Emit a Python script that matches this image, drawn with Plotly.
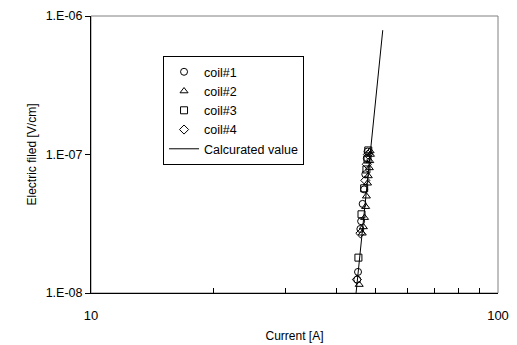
import plotly.graph_objects as go

# coil data: current [A], electric field [V/cm]
coil1_I = [47.8, 47.6, 47.2, 46.9, 46.5, 46.1, 45.9, 45.3, 45.1]
coil1_E = [1.05e-7, 9.4e-8, 7.2e-8, 5.6e-8, 4.4e-8, 3.3e-8, 2.9e-8, 1.42e-8, 1.25e-8]

coil2_I = [48.5, 48.6, 48.4, 48.3, 48.0, 47.8, 47.5, 47.3, 47.0, 46.7, 46.4, 45.6]
coil2_E = [1.06e-7, 1.0e-7, 9.0e-8, 8.0e-8, 7.0e-8, 6.2e-8, 5.0e-8, 4.2e-8, 3.5e-8, 3.0e-8, 2.7e-8, 1.15e-8]

coil3_I = [48.0, 47.8, 47.5, 46.9, 46.2, 45.4]
coil3_E = [1.07e-7, 9.2e-8, 7.8e-8, 5.7e-8, 3.7e-8, 1.8e-8]

coil4_I = [47.9, 47.6, 47.2, 45.9, 45.0]
coil4_E = [1.0e-7, 8.5e-8, 6.5e-8, 2.7e-8, 1.25e-8]

calc_I = [44.8, 52.1]
calc_E = [1.0e-8, 7.9e-7]

y_ticks = [1e-8, 1e-7, 1e-6]
y_labels = ["1.E-08", "1.E-07", "1.E-06"]
x_ticks = [10, 100]
x_labels = ["10", "100"]
x_minor = [20, 30, 40, 50, 60, 70, 80, 90]

FONT = "Liberation Sans, Arial, sans-serif"

fig = go.Figure()
for name, xs, ys, sym in [
    ("coil#1", coil1_I, coil1_E, "circle-open"),
    ("coil#2", coil2_I, coil2_E, "triangle-up-open"),
    ("coil#3", coil3_I, coil3_E, "square-open"),
    ("coil#4", coil4_I, coil4_E, "diamond-open"),
]:
    fig.add_trace(go.Scatter(x=xs, y=ys, mode="markers", name=name,
                             marker=dict(symbol=sym, size=7, color="black",
                                         line=dict(color="black", width=1))))
fig.add_trace(go.Scatter(x=calc_I, y=calc_E, mode="lines", name="Calcurated value",
                         line=dict(color="black", width=1)))

fig.update_layout(
    width=517, height=345,
    margin=dict(l=91, r=19, t=16, b=52),
    paper_bgcolor="white", plot_bgcolor="white",
    font=dict(family=FONT, size=12, color="black"),
    showlegend=True,
    legend=dict(x=0.177, y=0.855, xanchor="left", yanchor="top",
                bordercolor="black", borderwidth=1, bgcolor="white",
                font=dict(family=FONT, size=12.5), itemwidth=30),
    shapes=[dict(type="rect", xref="paper", yref="paper", x0=0, x1=1, y0=0, y1=1,
                 line=dict(color="#808080", width=1), layer="below")],
)
fig.update_xaxes(type="log", range=[1, 2], tickvals=x_ticks, ticktext=x_labels,
                 showgrid=False, showline=True, linecolor="black", linewidth=1,
                 ticks="", zeroline=False, ticklabelstandoff=10, automargin=False,
                 minor=dict(tickvals=x_minor, ticks="inside", ticklen=5,
                            tickcolor="black", showgrid=False),
                 title=dict(text="Current [A]", font=dict(size=12), standoff=10),
                 tickfont=dict(size=13))
fig.update_yaxes(type="log", range=[-8, -6], tickvals=y_ticks, ticktext=y_labels,
                 showgrid=False, showline=True, linecolor="black", linewidth=1,
                 ticks="outside", ticklen=5, tickcolor="black", zeroline=False,
                 automargin=False,
                 title=dict(text="Electric filed [V/cm]", font=dict(size=12), standoff=6),
                 tickfont=dict(size=12.5))

fig.write_html("out.html")
